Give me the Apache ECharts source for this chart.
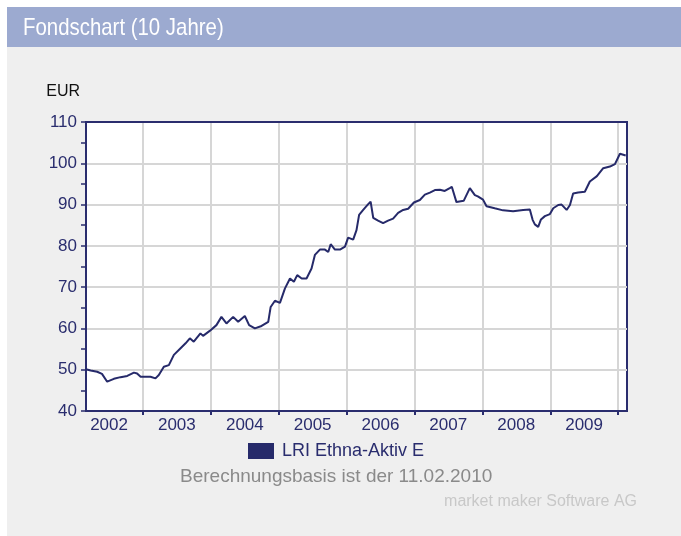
<!DOCTYPE html>
<html>
<head>
<meta charset="utf-8">
<script src="https://cdn.jsdelivr.net/npm/echarts@6/dist/echarts.min.js"></script>
<style>
  html, body { margin: 0; padding: 0; background: #fff; }
  #chart { width: 681px; height: 536px; }
</style>
</head>
<body>
<div id="chart"></div>
<script>
// Kursdaten
var dates = [
  '2002-02-28','2002-03-25','2002-04-29','2002-05-25','2002-06-22','2002-07-28','2002-09-02','2002-10-08',
  '2002-11-13','2002-11-30','2002-12-19','2003-02-10','2003-03-09','2003-03-27','2003-04-23','2003-05-20',
  '2003-06-16','2003-07-22','2003-08-18','2003-09-10','2003-10-01','2003-11-06','2003-11-20','2003-12-26',
  '2004-01-31','2004-02-27','2004-03-25','2004-04-30','2004-05-27','2004-07-02','2004-07-25','2004-08-25',
  '2004-09-30','2004-11-05','2004-11-18','2004-12-11','2005-01-07','2005-02-03','2005-03-02','2005-03-23',
  '2005-04-10','2005-05-04','2005-05-30','2005-06-26','2005-07-14','2005-08-10','2005-09-06','2005-09-24',
  '2005-10-07','2005-10-30','2005-11-26','2005-12-23','2006-01-09','2006-02-05','2006-02-23','2006-03-09',
  '2006-03-31','2006-04-27','2006-05-10','2006-05-24','2006-06-19','2006-07-16','2006-08-12','2006-09-08',
  '2006-10-05','2006-11-01','2006-11-28','2006-12-29','2007-01-30','2007-02-26','2007-03-25','2007-04-21',
  '2007-05-18','2007-06-13','2007-07-10','2007-07-21','2007-08-15','2007-09-23','2007-10-26','2007-11-22',
  '2007-12-08','2008-01-05','2008-01-24','2008-03-08','2008-04-22','2008-06-15','2008-08-08','2008-09-13',
  '2008-09-28','2008-10-10','2008-10-28','2008-11-12','2008-12-03','2008-12-30','2009-01-17','2009-02-13',
  '2009-03-03','2009-03-30','2009-04-17','2009-05-04','2009-05-31','2009-07-06','2009-08-02','2009-09-09',
  '2009-10-13','2009-11-18','2009-12-15','2010-01-11','2010-02-11'
];
var values = [
  50.1, 49.8, 49.5, 49.0, 47.1, 47.8, 48.2, 48.5,
  49.3, 49.1, 48.3, 48.3, 47.9, 48.7, 50.7, 51.1,
  53.6, 55.2, 56.4, 57.6, 56.8, 58.8, 58.2, 59.4,
  60.8, 62.8, 61.2, 62.8, 61.6, 63.0, 60.8, 60.0,
  60.6, 61.6, 65.2, 66.7, 66.2, 69.7, 72.1, 71.3,
  72.9, 72.1, 72.1, 74.5, 77.8, 79.1, 79.1, 78.5,
  80.4, 79.1, 79.1, 79.8, 82.0, 81.5, 83.8, 87.5,
  88.7, 90.1, 90.7, 86.8, 86.1, 85.5, 86.1, 86.6,
  88.0, 88.7, 89.0, 90.5, 91.1, 92.4, 92.9, 93.5,
  93.6, 93.3, 94.0, 94.3, 90.6, 90.9, 94.0, 92.3,
  92.0, 91.2, 89.6, 89.1, 88.6, 88.4, 88.7, 88.8,
  86.3, 85.2, 84.6, 86.4, 87.2, 87.7, 89.1, 89.9,
  90.0, 88.7, 89.9, 92.7, 92.9, 93.1, 95.6, 96.9,
  98.8, 99.2, 99.8, 102.3, 101.9
];
var yearLabels = ['2002','2003','2004','2005','2006','2007','2008','2009'];
var yearBounds = ['2003','2004','2005','2006','2007','2008','2009','2010'];

function t(s) {
  var p = s.split('-');
  return new Date(+p[0], (+p[1] || 1) - 1, +p[2] || 1).getTime();
}

var navy = '#2a2d6e';
var font = "'Liberation Sans', Arial, sans-serif";
var xMin = t('2002-02-28'), xMax = t('2010-02-18');
var myChart = echarts.init(document.getElementById('chart'));

var option = {
  backgroundColor: '#fff',
  animation: false,
  graphic: [
    { type: 'rect', z: -10, shape: { x: 7, y: 47, width: 674, height: 489 }, style: { fill: '#efefef' } },
    { type: 'rect', z: -10, shape: { x: 7, y: 7, width: 674, height: 40 }, style: { fill: '#9caad0' } },
    {
      type: 'text', x: 23, y: 16, scaleX: 0.85,
      style: { text: 'Fondschart (10 Jahre)', fill: '#fff', font: '24px ' + font, verticalAlign: 'top' }
    }
  ],
  title: [
    {
      text: 'Berechnungsbasis ist der 11.02.2010', left: 180, top: 467, padding: 0,
      textStyle: { color: '#8a8a8a', fontSize: 19, fontWeight: 'normal', fontFamily: font }
    },
    {
      text: 'market maker Software AG', right: 44, top: 494, padding: 0,
      textStyle: { color: '#c8c8c8', fontSize: 16, fontWeight: 'normal', fontFamily: font }
    }
  ],
  legend: {
    left: 248, top: 442, padding: 0,
    itemWidth: 26, itemHeight: 16, icon: 'rect',
    textStyle: { color: navy, fontSize: 18, fontFamily: font, padding: [0, 0, 0, 3] },
    data: ['LRI Ethna-Aktiv E']
  },
  grid: {
    left: 86, top: 122, right: 54, bottom: 125,
    show: true, backgroundColor: '#fff', borderColor: navy, borderWidth: 2
  },
  xAxis: [
    {
      type: 'value',
      min: xMin, max: xMax,
      axisLine: { show: true, lineStyle: { color: navy, width: 2 } },
      axisTick: { show: true, length: 4, lineStyle: { color: navy, width: 2 }, customValues: yearBounds.map(t) },
      splitLine: { show: true, lineStyle: { color: '#d6d6d6', width: 2 } },
      axisLabel: {
        color: navy, fontSize: 17, margin: 6, fontFamily: font,
        customValues: yearLabels.map(function (y) { return t(y + '-07-02'); }),
        formatter: function (v) { return String(new Date(v).getFullYear()); }
      }
    },
    {
      // nur obere Rahmenlinie
      type: 'value', position: 'top', z: 5,
      min: xMin, max: xMax,
      axisLine: { show: true, lineStyle: { color: navy, width: 2 } },
      axisTick: { show: false }, axisLabel: { show: false }, splitLine: { show: false }
    }
  ],
  yAxis: {
    type: 'value', min: 40, max: 110, interval: 10,
    name: 'EUR', nameLocation: 'end', nameGap: 22,
    nameTextStyle: { color: '#111', fontSize: 16, align: 'right', padding: [0, 6, 0, 0], fontFamily: font },
    axisLine: { show: true, lineStyle: { color: navy, width: 2 } },
    axisTick: { show: true, length: 5, lineStyle: { color: navy, width: 1.5 } },
    minorTick: { show: true, splitNumber: 2, length: 5, lineStyle: { color: navy, width: 1.5 } },
    splitLine: { show: true, lineStyle: { color: '#d6d6d6', width: 2 } },
    axisLabel: { color: navy, fontSize: 17, margin: 9, fontFamily: font }
  },
  series: [
    {
      name: 'LRI Ethna-Aktiv E',
      type: 'line',
      showSymbol: false,
      color: '#262a6a',
      lineStyle: { width: 2 },
      data: dates.map(function (d, i) { return [t(d), values[i]]; })
    }
  ]
};

myChart.setOption(option);
</script>
</body>
</html>
